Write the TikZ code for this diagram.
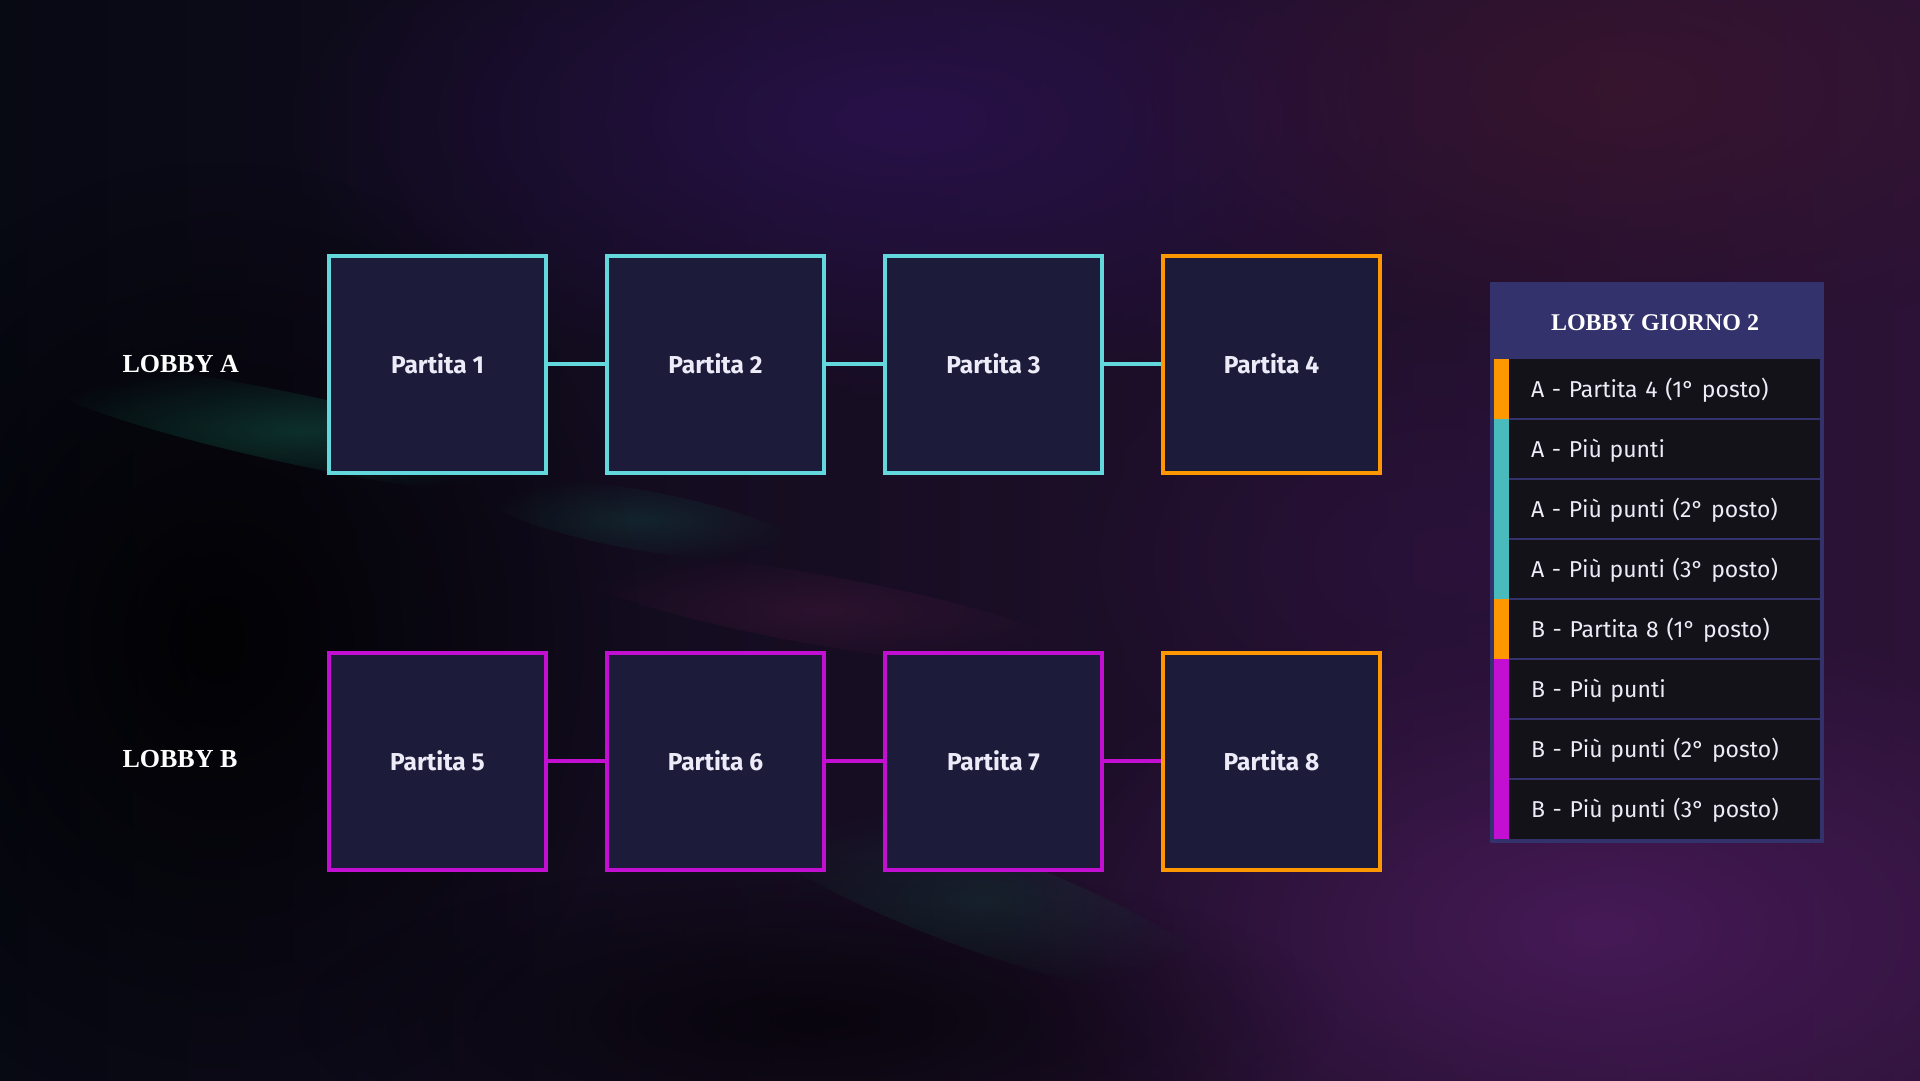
\documentclass[tikz,border=0pt]{standalone}
\usepackage{fontspec}
\setmainfont{Fira Sans}
\newfontfamily\titolo{Liberation Serif}
\usepackage{xcolor}
\usetikzlibrary{positioning,fadings}
\definecolor{sfondoA}{HTML}{070913}
\definecolor{sfondoB}{HTML}{2B1236}
\definecolor{boxfill}{HTML}{1C1B3A}
\definecolor{ciano}{HTML}{62D7DC}
\definecolor{viola}{HTML}{C30FD2}
\definecolor{arancio}{HTML}{FF9800}
\definecolor{verdeacqua}{HTML}{4ABBBD}
\definecolor{pannello}{HTML}{33326C}
\definecolor{rigafill}{HTML}{131219}
\definecolor{chiaro}{HTML}{ECEBF7}
\tikzfading[name=sfuma, inner color=transparent!0, outer color=transparent!100]

\tikzset{
	partita/.style={draw=#1, line width=4pt, minimum size=217pt, fill=boxfill, text=chiaro,
		font=\fontsize{24.5}{28}\selectfont\bfseries},
	lobby/.style={anchor=west, text=white, font=\titolo\fontsize{26}{30}\selectfont\bfseries},
	riga/.style={fill=rigafill, text=chiaro, minimum width=311pt, minimum height=60pt,
		inner xsep=22pt, text width=267pt, align=left, outer sep=0pt, anchor=north west,
		text height=16pt, text depth=0pt, font=\fontsize{23}{27}\selectfont},
	separa/.style={draw=pannello, line width=2pt},
	collega/.style={draw=#1, line width=4pt},
	macchia/.style={path fading=sfuma},
}

\begin{document}
\begin{tikzpicture}[x=1pt,y=-1pt,node distance=57pt]
	\useasboundingbox (0,0) rectangle (1920,1080);
	% sfondo
	\shade[left color=sfondoA, right color=sfondoB] (0,0) rectangle (1920,1080);
	\fill[macchia, color={rgb,255:red,44;green,18;blue,82}, opacity=.8] (900,120) ellipse (620 and 280);
	\fill[macchia, color={rgb,255:red,62;green,22;blue,46}, opacity=.7] (1620,90) ellipse (520 and 260);
	\fill[macchia, color={rgb,255:red,78;green,28;blue,96}, opacity=.8] (1600,930) ellipse (600 and 320);
	\fill[macchia, color={rgb,255:red,50;green,20;blue,70}, opacity=.5] (1450,560) ellipse (400 and 260);
	\fill[macchia, color=black, opacity=.8] (220,640) ellipse (420 and 480);
	\fill[macchia, color=black, opacity=.6] (820,1020) ellipse (520 and 160);
	\fill[macchia, color={rgb,255:red,20;green,100;blue,80}, opacity=.45, rotate around={-12:(300,430)}] (300,430) ellipse (280 and 35);
	\fill[macchia, color={rgb,255:red,18;green,80;blue,70}, opacity=.35, rotate around={-10:(640,520)}] (640,520) ellipse (160 and 30);
	\fill[macchia, color={rgb,255:red,20;green,80;blue,68}, opacity=.3, rotate around={-20:(980,900)}] (980,900) ellipse (260 and 50);
	\fill[macchia, color={rgb,255:red,70;green,24;blue,60}, opacity=.45, rotate around={-10:(820,610)}] (820,610) ellipse (260 and 35);

	% lobby A
	\node[lobby] (lobbyA) at (119,364) {LOBBY A};
	\node[partita=ciano] (p1) at (437.5,364) {Partita 1};
	\node[partita=ciano] (p2) [right=of p1] {Partita 2};
	\node[partita=ciano] (p3) [right=of p2] {Partita 3};
	\node[partita=arancio] (p4) [right=of p3] {Partita 4};

	% lobby B
	\node[lobby] (lobbyB) at (119,759) {LOBBY B};
	\node[partita=viola] (p5) at (437.5,761) {Partita 5};
	\node[partita=viola] (p6) [right=of p5] {Partita 6};
	\node[partita=viola] (p7) [right=of p6] {Partita 7};
	\node[partita=arancio] (p8) [right=of p7] {Partita 8};

	\draw[collega=ciano] (p1) -- (p2) (p2) -- (p3) (p3) -- (p4);
	\draw[collega=viola] (p5) -- (p6) (p6) -- (p7) (p7) -- (p8);

	% pannello
	\node[fill=pannello, minimum width=334pt, minimum height=561pt, inner sep=0pt] (pan) at (1657,562.5) {};
	\node[text=white, font=\titolo\fontsize{24}{28}\selectfont\bfseries] (giorno) at (1655,323) {LOBBY GIORNO 2};
	\node[riga] (r1) at (1509,359) {A - Partita 4 (1° posto)};
	\node[riga] (r2) [below=0pt of r1] {A - Più punti};
	\node[riga] (r3) [below=0pt of r2] {A - Più punti (2° posto)};
	\node[riga] (r4) [below=0pt of r3] {A - Più punti (3° posto)};
	\node[riga] (r5) [below=0pt of r4] {B - Partita 8 (1° posto)};
	\node[riga] (r6) [below=0pt of r5] {B - Più punti};
	\node[riga] (r7) [below=0pt of r6] {B - Più punti (2° posto)};
	\node[riga] (r8) [below=0pt of r7] {B - Più punti (3° posto)};

	\fill[arancio] ([xshift=-15pt]r1.north west) rectangle (r1.south west);
	\fill[verdeacqua] ([xshift=-15pt]r2.north west) rectangle (r4.south west);
	\fill[arancio] ([xshift=-15pt]r5.north west) rectangle (r5.south west);
	\fill[viola] ([xshift=-15pt]r6.north west) rectangle (r8.south west);

	\draw[separa] (r1.south west) -- (r1.south east)
		(r2.south west) -- (r2.south east)
		(r3.south west) -- (r3.south east)
		(r4.south west) -- (r4.south east)
		(r5.south west) -- (r5.south east)
		(r6.south west) -- (r6.south east)
		(r7.south west) -- (r7.south east);
\end{tikzpicture}
\end{document}
